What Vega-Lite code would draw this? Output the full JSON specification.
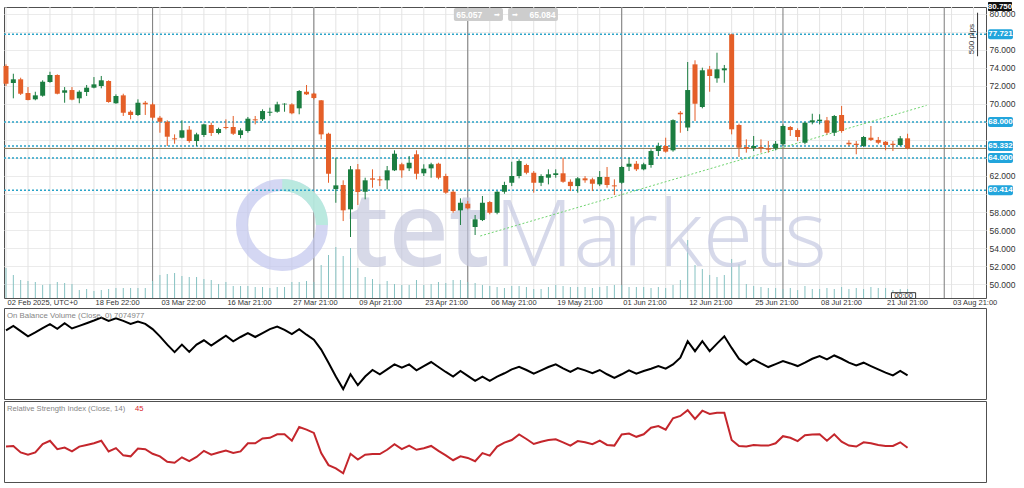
{
  "$schema": "https://vega.github.io/schema/vega-lite/v6.json",
  "background": "#ffffff",
  "padding": {"left": 1, "top": 1, "right": 0, "bottom": 5},
  "spacing": 0,
  "config": {
    "view": {"stroke": "#505050", "strokeWidth": 1},
    "font": "Liberation Sans",
    "axis": {"labelFont": "Liberation Sans", "labelColor": "#333333"}
  },
  "datasets": {
    "bars": [
      {"i":0,"o":74.21,"h":74.39,"l":71.99,"c":72.24,"v":30,"obv":7622000,"rsi":46.0},
      {"i":1,"o":72.32,"h":73.35,"l":70.62,"c":72.73,"v":23,"obv":7678000,"rsi":46.5},
      {"i":2,"o":72.73,"h":72.91,"l":70.99,"c":71.13,"v":18,"obv":7614000,"rsi":41.2},
      {"i":3,"o":71.21,"h":71.87,"l":70.40,"c":70.43,"v":17,"obv":7550000,"rsi":39.3},
      {"i":4,"o":70.51,"h":71.35,"l":70.40,"c":70.95,"v":16,"obv":7598000,"rsi":41.2},
      {"i":5,"o":70.91,"h":72.62,"l":70.80,"c":72.46,"v":13,"obv":7650000,"rsi":48.1},
      {"i":6,"o":72.43,"h":73.57,"l":72.35,"c":73.21,"v":14,"obv":7698000,"rsi":50.8},
      {"i":7,"o":73.21,"h":73.28,"l":71.06,"c":71.13,"v":16,"obv":7642000,"rsi":43.9},
      {"i":8,"o":71.24,"h":71.87,"l":70.13,"c":71.51,"v":15,"obv":7710000,"rsi":45.2},
      {"i":9,"o":71.54,"h":71.87,"l":70.40,"c":70.47,"v":14,"obv":7646000,"rsi":42.0},
      {"i":10,"o":70.62,"h":71.51,"l":70.07,"c":71.35,"v":8,"obv":7678000,"rsi":46.0},
      {"i":11,"o":71.32,"h":72.10,"l":70.88,"c":71.80,"v":9,"obv":7710000,"rsi":47.3},
      {"i":12,"o":71.80,"h":72.98,"l":71.73,"c":72.17,"v":7,"obv":7743000,"rsi":48.7},
      {"i":13,"o":71.99,"h":73.10,"l":71.73,"c":72.62,"v":8,"obv":7779000,"rsi":50.8},
      {"i":14,"o":72.54,"h":72.62,"l":70.13,"c":70.21,"v":9,"obv":7739000,"rsi":42.0},
      {"i":15,"o":70.07,"h":71.06,"l":70.02,"c":70.88,"v":10,"obv":7771000,"rsi":44.7},
      {"i":16,"o":70.95,"h":71.13,"l":68.66,"c":69.02,"v":10,"obv":7739000,"rsi":38.8},
      {"i":17,"o":69.13,"h":69.29,"l":68.29,"c":68.77,"v":10,"obv":7702000,"rsi":38.0},
      {"i":18,"o":68.77,"h":70.51,"l":68.66,"c":70.13,"v":10,"obv":7731000,"rsi":44.4},
      {"i":19,"o":70.13,"h":70.32,"l":68.77,"c":69.95,"v":10,"obv":7702000,"rsi":43.9},
      {"i":20,"o":69.95,"h":70.13,"l":68.29,"c":68.47,"v":17,"obv":7638000,"rsi":40.1},
      {"i":21,"o":68.47,"h":68.66,"l":66.80,"c":68.02,"v":23,"obv":7550000,"rsi":38.0},
      {"i":22,"o":68.02,"h":68.18,"l":65.33,"c":66.36,"v":24,"obv":7449000,"rsi":33.5},
      {"i":23,"o":66.18,"h":66.62,"l":65.58,"c":66.07,"v":25,"obv":7357000,"rsi":32.7},
      {"i":24,"o":66.25,"h":68.18,"l":66.18,"c":67.07,"v":22,"obv":7449000,"rsi":37.2},
      {"i":25,"o":67.14,"h":67.55,"l":65.69,"c":65.88,"v":21,"obv":7361000,"rsi":34.0},
      {"i":26,"o":65.88,"h":66.80,"l":65.33,"c":66.62,"v":21,"obv":7449000,"rsi":37.5},
      {"i":27,"o":66.55,"h":67.80,"l":66.33,"c":67.73,"v":19,"obv":7502000,"rsi":42.5},
      {"i":28,"o":67.66,"h":67.91,"l":66.44,"c":66.77,"v":18,"obv":7437000,"rsi":39.3},
      {"i":29,"o":66.77,"h":67.36,"l":66.62,"c":67.21,"v":14,"obv":7498000,"rsi":41.2},
      {"i":30,"o":67.44,"h":68.29,"l":67.18,"c":67.33,"v":16,"obv":7558000,"rsi":42.8},
      {"i":31,"o":67.44,"h":68.66,"l":66.55,"c":66.69,"v":12,"obv":7490000,"rsi":40.7},
      {"i":32,"o":66.55,"h":67.29,"l":66.18,"c":67.07,"v":12,"obv":7542000,"rsi":42.0},
      {"i":33,"o":66.99,"h":68.55,"l":66.80,"c":68.36,"v":12,"obv":7590000,"rsi":48.7},
      {"i":34,"o":68.29,"h":68.66,"l":67.73,"c":68.18,"v":11,"obv":7542000,"rsi":48.7},
      {"i":35,"o":68.29,"h":69.40,"l":68.10,"c":69.21,"v":11,"obv":7590000,"rsi":52.7},
      {"i":36,"o":69.02,"h":69.58,"l":68.66,"c":69.13,"v":10,"obv":7638000,"rsi":53.2},
      {"i":37,"o":69.13,"h":70.24,"l":69.02,"c":69.95,"v":11,"obv":7670000,"rsi":56.1},
      {"i":38,"o":69.95,"h":70.07,"l":69.13,"c":70.02,"v":11,"obv":7630000,"rsi":56.1},
      {"i":39,"o":69.95,"h":70.07,"l":68.85,"c":68.96,"v":16,"obv":7578000,"rsi":50.8},
      {"i":40,"o":69.51,"h":71.54,"l":68.85,"c":71.43,"v":16,"obv":7638000,"rsi":62.0},
      {"i":41,"o":71.35,"h":72.10,"l":70.99,"c":71.06,"v":17,"obv":7570000,"rsi":59.9},
      {"i":42,"o":71.15,"h":71.24,"l":70.51,"c":70.65,"v":16,"obv":7510000,"rsi":57.2},
      {"i":43,"o":70.40,"h":70.43,"l":66.07,"c":66.62,"v":33,"obv":7389000,"rsi":40.7},
      {"i":44,"o":66.69,"h":66.80,"l":61.25,"c":62.25,"v":43,"obv":7229000,"rsi":30.8},
      {"i":45,"o":60.55,"h":64.03,"l":59.03,"c":60.96,"v":51,"obv":7060000,"rsi":28.1},
      {"i":46,"o":61.00,"h":61.52,"l":57.00,"c":58.19,"v":42,"obv":6907000,"rsi":24.1},
      {"i":47,"o":58.30,"h":63.11,"l":55.23,"c":62.74,"v":50,"obv":7088000,"rsi":40.1},
      {"i":48,"o":62.74,"h":63.33,"l":58.78,"c":60.22,"v":30,"obv":6955000,"rsi":35.3},
      {"i":49,"o":60.25,"h":61.81,"l":59.41,"c":61.52,"v":21,"obv":7060000,"rsi":39.3},
      {"i":50,"o":61.74,"h":62.74,"l":60.70,"c":61.59,"v":19,"obv":7140000,"rsi":39.9},
      {"i":51,"o":61.63,"h":61.99,"l":60.88,"c":61.52,"v":14,"obv":7088000,"rsi":39.9},
      {"i":52,"o":61.52,"h":63.11,"l":60.52,"c":62.63,"v":17,"obv":7148000,"rsi":43.4},
      {"i":53,"o":62.63,"h":64.85,"l":62.55,"c":64.47,"v":14,"obv":7208000,"rsi":47.9},
      {"i":54,"o":63.30,"h":63.47,"l":61.81,"c":62.63,"v":13,"obv":7168000,"rsi":43.9},
      {"i":55,"o":62.85,"h":64.22,"l":62.55,"c":63.47,"v":13,"obv":7208000,"rsi":46.8},
      {"i":56,"o":64.41,"h":64.85,"l":61.63,"c":62.25,"v":18,"obv":7136000,"rsi":43.4},
      {"i":57,"o":62.30,"h":63.30,"l":62.00,"c":62.81,"v":13,"obv":7188000,"rsi":44.7},
      {"i":58,"o":62.85,"h":63.47,"l":61.81,"c":63.30,"v":14,"obv":7237000,"rsi":46.5},
      {"i":59,"o":63.36,"h":63.47,"l":61.63,"c":61.81,"v":16,"obv":7176000,"rsi":42.5},
      {"i":60,"o":62.00,"h":62.25,"l":60.03,"c":60.15,"v":15,"obv":7116000,"rsi":38.8},
      {"i":61,"o":60.25,"h":60.41,"l":57.92,"c":58.11,"v":18,"obv":7060000,"rsi":34.8},
      {"i":62,"o":58.19,"h":59.52,"l":56.56,"c":59.03,"v":18,"obv":7128000,"rsi":38.0},
      {"i":63,"o":58.92,"h":59.22,"l":58.30,"c":58.41,"v":16,"obv":7068000,"rsi":36.7},
      {"i":64,"o":56.34,"h":57.67,"l":55.45,"c":57.19,"v":15,"obv":7008000,"rsi":34.0},
      {"i":65,"o":57.11,"h":59.78,"l":57.00,"c":59.03,"v":13,"obv":7060000,"rsi":40.7},
      {"i":66,"o":59.11,"h":59.22,"l":57.75,"c":57.92,"v":12,"obv":7008000,"rsi":38.6},
      {"i":67,"o":57.92,"h":60.33,"l":57.75,"c":60.25,"v":11,"obv":7060000,"rsi":46.0},
      {"i":68,"o":60.25,"h":61.36,"l":60.03,"c":61.00,"v":10,"obv":7100000,"rsi":49.2},
      {"i":69,"o":61.25,"h":63.58,"l":60.88,"c":62.00,"v":12,"obv":7148000,"rsi":51.4},
      {"i":70,"o":62.00,"h":63.85,"l":61.74,"c":63.66,"v":12,"obv":7180000,"rsi":55.9},
      {"i":71,"o":63.22,"h":63.36,"l":62.19,"c":62.36,"v":11,"obv":7140000,"rsi":52.2},
      {"i":72,"o":62.36,"h":62.55,"l":60.15,"c":61.25,"v":9,"obv":7096000,"rsi":48.1},
      {"i":73,"o":61.25,"h":62.19,"l":60.88,"c":62.00,"v":9,"obv":7136000,"rsi":50.0},
      {"i":74,"o":61.81,"h":62.74,"l":61.07,"c":62.19,"v":11,"obv":7176000,"rsi":51.4},
      {"i":75,"o":62.11,"h":62.74,"l":61.81,"c":62.30,"v":13,"obv":7208000,"rsi":51.9},
      {"i":76,"o":62.30,"h":64.03,"l":61.25,"c":61.36,"v":12,"obv":7160000,"rsi":49.5},
      {"i":77,"o":61.36,"h":61.63,"l":60.33,"c":60.88,"v":11,"obv":7116000,"rsi":46.8},
      {"i":78,"o":60.88,"h":61.88,"l":60.15,"c":61.74,"v":11,"obv":7164000,"rsi":50.5},
      {"i":79,"o":61.74,"h":61.99,"l":61.25,"c":61.52,"v":11,"obv":7136000,"rsi":49.5},
      {"i":80,"o":61.63,"h":61.81,"l":60.33,"c":61.14,"v":10,"obv":7100000,"rsi":47.9},
      {"i":81,"o":61.07,"h":62.55,"l":60.88,"c":61.89,"v":11,"obv":7140000,"rsi":50.8},
      {"i":82,"o":61.89,"h":63.00,"l":60.70,"c":61.00,"v":12,"obv":7088000,"rsi":47.3},
      {"i":83,"o":60.96,"h":61.63,"l":59.89,"c":60.85,"v":13,"obv":7044000,"rsi":46.8},
      {"i":84,"o":61.25,"h":63.11,"l":61.14,"c":63.00,"v":13,"obv":7088000,"rsi":55.9},
      {"i":85,"o":63.03,"h":64.03,"l":62.55,"c":63.36,"v":11,"obv":7136000,"rsi":56.7},
      {"i":86,"o":63.36,"h":63.66,"l":62.55,"c":62.74,"v":11,"obv":7096000,"rsi":54.0},
      {"i":87,"o":62.74,"h":63.47,"l":62.63,"c":63.30,"v":11,"obv":7128000,"rsi":56.1},
      {"i":88,"o":63.22,"h":64.96,"l":62.92,"c":64.77,"v":10,"obv":7156000,"rsi":61.5},
      {"i":89,"o":64.77,"h":65.69,"l":64.22,"c":65.33,"v":11,"obv":7188000,"rsi":62.8},
      {"i":90,"o":65.33,"h":66.25,"l":64.59,"c":64.70,"v":10,"obv":7156000,"rsi":59.9},
      {"i":91,"o":64.85,"h":68.29,"l":64.70,"c":68.20,"v":13,"obv":7208000,"rsi":69.2},
      {"i":92,"o":69.02,"h":69.21,"l":66.80,"c":68.85,"v":18,"obv":7289000,"rsi":71.1},
      {"i":93,"o":67.38,"h":74.65,"l":66.99,"c":71.54,"v":58,"obv":7490000,"rsi":75.9},
      {"i":94,"o":74.39,"h":74.84,"l":68.10,"c":70.02,"v":33,"obv":7369000,"rsi":68.7},
      {"i":95,"o":69.66,"h":74.02,"l":69.51,"c":73.73,"v":29,"obv":7490000,"rsi":75.4},
      {"i":96,"o":73.84,"h":74.21,"l":71.35,"c":73.10,"v":23,"obv":7369000,"rsi":72.7},
      {"i":97,"o":72.84,"h":75.68,"l":72.35,"c":73.84,"v":21,"obv":7461000,"rsi":73.8},
      {"i":98,"o":73.73,"h":74.32,"l":72.35,"c":73.95,"v":23,"obv":7550000,"rsi":73.8},
      {"i":99,"o":77.72,"h":77.79,"l":66.62,"c":67.18,"v":39,"obv":7409000,"rsi":51.4},
      {"i":100,"o":67.66,"h":67.80,"l":64.11,"c":65.14,"v":34,"obv":7277000,"rsi":46.5},
      {"i":101,"o":65.22,"h":66.07,"l":64.59,"c":65.03,"v":14,"obv":7208000,"rsi":46.0},
      {"i":102,"o":65.11,"h":66.44,"l":64.77,"c":65.33,"v":12,"obv":7269000,"rsi":47.3},
      {"i":103,"o":65.22,"h":66.07,"l":64.59,"c":65.07,"v":11,"obv":7220000,"rsi":46.8},
      {"i":104,"o":65.07,"h":65.88,"l":64.59,"c":64.92,"v":10,"obv":7176000,"rsi":46.8},
      {"i":105,"o":65.07,"h":65.88,"l":64.85,"c":65.58,"v":10,"obv":7212000,"rsi":48.7},
      {"i":106,"o":65.52,"h":67.73,"l":65.33,"c":67.55,"v":9,"obv":7249000,"rsi":54.5},
      {"i":107,"o":67.44,"h":67.55,"l":66.44,"c":67.10,"v":10,"obv":7220000,"rsi":53.2},
      {"i":108,"o":67.10,"h":67.29,"l":65.88,"c":66.33,"v":8,"obv":7188000,"rsi":50.5},
      {"i":109,"o":65.69,"h":68.02,"l":65.52,"c":67.91,"v":12,"obv":7229000,"rsi":55.3},
      {"i":110,"o":67.96,"h":68.91,"l":67.73,"c":68.18,"v":9,"obv":7277000,"rsi":55.9},
      {"i":111,"o":68.10,"h":68.85,"l":67.73,"c":68.25,"v":9,"obv":7309000,"rsi":56.1},
      {"i":112,"o":68.18,"h":68.55,"l":66.62,"c":66.80,"v":10,"obv":7269000,"rsi":50.8},
      {"i":113,"o":66.80,"h":68.77,"l":66.44,"c":68.66,"v":9,"obv":7317000,"rsi":56.1},
      {"i":114,"o":68.77,"h":69.77,"l":66.80,"c":66.99,"v":11,"obv":7277000,"rsi":50.0},
      {"i":115,"o":65.69,"h":65.96,"l":65.33,"c":65.52,"v":9,"obv":7229000,"rsi":46.8},
      {"i":116,"o":65.58,"h":65.88,"l":64.41,"c":65.44,"v":10,"obv":7196000,"rsi":46.0},
      {"i":117,"o":65.33,"h":66.44,"l":65.22,"c":66.33,"v":9,"obv":7229000,"rsi":49.5},
      {"i":118,"o":66.25,"h":67.55,"l":65.88,"c":66.00,"v":11,"obv":7188000,"rsi":48.7},
      {"i":119,"o":66.00,"h":66.33,"l":65.52,"c":65.69,"v":10,"obv":7148000,"rsi":47.3},
      {"i":120,"o":65.80,"h":65.88,"l":64.85,"c":65.44,"v":10,"obv":7108000,"rsi":46.5},
      {"i":121,"o":65.58,"h":65.88,"l":64.77,"c":65.44,"v":8,"obv":7075000,"rsi":46.5},
      {"i":122,"o":65.44,"h":66.44,"l":65.33,"c":66.18,"v":9,"obv":7128000,"rsi":49.5},
      {"i":123,"o":66.18,"h":66.69,"l":64.96,"c":65.06,"v":9,"obv":7074977,"rsi":45.0}
    ],
    "xlabels": [
      {"i": 0, "t": "02 Feb 2025, UTC+0"},
      {"i": 12, "t": "18 Feb 22:00"},
      {"i": 21, "t": "03 Mar 22:00"},
      {"i": 30, "t": "16 Mar 21:00"},
      {"i": 39, "t": "27 Mar 21:00"},
      {"i": 48, "t": "09 Apr 21:00"},
      {"i": 57, "t": "23 Apr 21:00"},
      {"i": 66, "t": "06 May 21:00"},
      {"i": 75, "t": "19 May 21:00"},
      {"i": 84, "t": "01 Jun 21:00"},
      {"i": 93, "t": "12 Jun 21:00"},
      {"i": 102, "t": "25 Jun 21:00"},
      {"i": 111, "t": "08 Jul 21:00"},
      {"i": 120, "t": "21 Jul 21:00"},
      {"i": 129, "t": "03 Aug 21:00"}
    ],
    "levels": [
      {"v": 77.721, "t": "77.721"},
      {"v": 68.0, "t": "68.000"},
      {"v": 65.332, "t": "65.332"},
      {"v": 64.0, "t": "64.000"},
      {"v": 60.414, "t": "60.414"}
    ],
    "trend": [
      {"i": 64.7, "p": 55.34},
      {"i": 125.6, "p": 69.84}
    ]
  },
  "vconcat": [
    {
      "width": 982,
      "height": 291,
      "resolve": {"scale": {"y": "independent"}},
      "layer": [
        {
          "data": {"name": "bars"},
          "mark": {"type": "rule", "strokeWidth": 1},
          "encoding": {
            "x": {
              "field": "i", "type": "quantitative",
              "scale": {"domain": [-0.273, 133.7], "nice": false, "zero": false, "padding": 0},
              "axis": {
                "title": null,
                "values": [0,3,6,9,12,15,18,21,24,27,30,33,36,39,42,45,48,51,54,57,60,63,66,69,72,75,78,81,84,87,90,93,96,99,102,105,108,111,114,117,120,123,126,129,132],
                "grid": false,
                "labels": false, "ticks": true, "tickSize": 3, "tickColor": "#8a8a8a", "domain": false,
                "minExtent": 0, "maxExtent": 3
              }
            },
            "y": {
              "field": "l", "type": "quantitative",
              "scale": {"domain": [48.46, 80.755], "nice": false, "zero": false, "padding": 0},
              "axis": {
                "orient": "right",
                "title": null,
                "values": [50,52,54,56,58,60,62,64,66,68,70,72,74,76,78,80],
                "labelExpr": "indexof([78,68,66,64,60], datum.value) >= 0 ? '' : format(datum.value, '.3f')",
                "grid": true,
                "gridColor": "#ebebeb",
                "domain": false,
                "ticks": false,
                "labelPadding": 3,
                "labelFontSize": 8.5,
                "labelColor": "#333333",
                "minExtent": 34,
                "maxExtent": 34
              }
            },
            "y2": {"field": "l"},
            "opacity": {"value": 0}
          }
        },
        {
          "data": {"name": "bars"},
          "transform": [{"filter": "datum.i % 3 == 0"}],
          "mark": {"type": "rule", "color": "#e3e3e3", "strokeWidth": 1},
          "encoding": {
            "x": {"field": "i", "type": "quantitative", "scale": {"domain": [-0.273, 133.7], "nice": false, "zero": false, "padding": 0}, "axis": null}
          }
        },
        {
          "data": {"values": [{}]},
          "mark": {"type": "rule", "color": "#e3e3e3", "strokeWidth": 1},
          "encoding": {
            "x": {"datum": 126, "type": "quantitative", "scale": {"domain": [-0.273, 133.7], "nice": false, "zero": false, "padding": 0}, "axis": null}
          }
        },
        {
          "data": {"values": [{}]},
          "mark": {"type": "rule", "color": "#e3e3e3", "strokeWidth": 1},
          "encoding": {
            "x": {"datum": 129, "type": "quantitative", "scale": {"domain": [-0.273, 133.7], "nice": false, "zero": false, "padding": 0}, "axis": null}
          }
        },
        {
          "data": {"values": [{}]},
          "mark": {"type": "rule", "color": "#e3e3e3", "strokeWidth": 1},
          "encoding": {
            "x": {"datum": 132, "type": "quantitative", "scale": {"domain": [-0.273, 133.7], "nice": false, "zero": false, "padding": 0}, "axis": null}
          }
        },
        {
          "data": {"name": "bars"},
          "transform": [{"filter": "indexof([20,42,63,84,106], datum.i) >= 0"}],
          "mark": {"type": "rule", "color": "#7a7a7a", "strokeWidth": 1},
          "encoding": {
            "x": {"field": "i", "type": "quantitative", "scale": {"domain": [-0.273, 133.7], "nice": false, "zero": false, "padding": 0}, "axis": null}
          }
        },
        {
          "data": {"values": [{}]},
          "mark": {"type": "rule", "color": "#7a7a7a", "strokeWidth": 1},
          "encoding": {
            "x": {"datum": 128, "type": "quantitative", "scale": {"domain": [-0.273, 133.7], "nice": false, "zero": false, "padding": 0}, "axis": null}
          }
        },
        {
          "data": {"name": "xlabels"},
          "mark": {"type": "text", "align": "left", "baseline": "middle", "dx": 1.5, "dy": 5, "fontSize": 7.5, "color": "#333333"},
          "encoding": {
            "x": {"field": "i", "type": "quantitative", "scale": {"domain": [-0.273, 133.7], "nice": false, "zero": false, "padding": 0}, "axis": null},
            "y": {"datum": 48.46, "type": "quantitative", "scale": {"domain": [48.46, 80.755], "nice": false, "zero": false, "padding": 0}, "axis": null},
            "text": {"field": "t"}
          }
        },
        {
          "data": {"name": "bars"},
          "mark": {"type": "rule", "color": "#86c2c2", "strokeWidth": 1},
          "encoding": {
            "x": {"field": "i", "type": "quantitative", "scale": {"domain": [-0.273, 133.7], "nice": false, "zero": false, "padding": 0}, "axis": null},
            "y": {"field": "v", "type": "quantitative", "scale": {"domain": [0, 291], "nice": false, "padding": 0}, "axis": null},
            "y2": {"datum": 0}
          }
        },
        {
          "data": {"values": [{}]},
          "mark": {"type": "point", "shape": "circle", "filled": false, "size": 6400, "stroke": "#c3c7ee", "strokeWidth": 12, "opacity": 0.7},
          "encoding": {
            "x": {"datum": 37.65, "type": "quantitative", "scale": {"domain": [-0.273, 133.7], "nice": false, "zero": false, "padding": 0}, "axis": null},
            "y": {"datum": 56.56, "type": "quantitative", "scale": {"domain": [48.46, 80.755], "nice": false, "zero": false, "padding": 0}, "axis": null}
          }
        },
        {
          "data": {"values": [{}]},
          "mark": {"type": "point", "shape": "circle", "filled": false, "size": 6400, "stroke": "#b4eedb", "strokeWidth": 12, "opacity": 0.8, "strokeDash": [62.8, 188.5], "strokeDashOffset": 62.8},
          "encoding": {
            "x": {"datum": 37.65, "type": "quantitative", "scale": {"domain": [-0.273, 133.7], "nice": false, "zero": false, "padding": 0}, "axis": null},
            "y": {"datum": 56.56, "type": "quantitative", "scale": {"domain": [48.46, 80.755], "nice": false, "zero": false, "padding": 0}, "axis": null}
          }
        },
        {
          "data": {"values": [{}]},
          "mark": {"type": "text", "text": "tet", "font": "Open Sans", "fontSize": 104, "fontWeight": 600, "color": "#c2c5dd", "opacity": 0.65, "align": "right", "baseline": "alphabetic"},
          "encoding": {
            "x": {"datum": 66.0, "type": "quantitative", "scale": {"domain": [-0.273, 133.7], "nice": false, "zero": false, "padding": 0}, "axis": null},
            "y": {"datum": 52.05, "type": "quantitative", "scale": {"domain": [48.46, 80.755], "nice": false, "zero": false, "padding": 0}, "axis": null}
          }
        },
        {
          "data": {"values": [{}]},
          "mark": {"type": "text", "text": "Markets", "font": "Open Sans", "fontSize": 92, "fontWeight": 300, "color": "#c6c9e2", "opacity": 0.7, "align": "left", "baseline": "alphabetic"},
          "encoding": {
            "x": {"datum": 66.6, "type": "quantitative", "scale": {"domain": [-0.273, 133.7], "nice": false, "zero": false, "padding": 0}, "axis": null},
            "y": {"datum": 52.05, "type": "quantitative", "scale": {"domain": [48.46, 80.755], "nice": false, "zero": false, "padding": 0}, "axis": null}
          }
        },
        {
          "data": {"name": "levels"},
          "mark": {"type": "rule", "color": "#2aa3c8", "strokeWidth": 1.5, "strokeDash": [2, 2]},
          "encoding": {
            "y": {"field": "v", "type": "quantitative", "scale": {"domain": [48.46, 80.755], "nice": false, "zero": false, "padding": 0}, "axis": null}
          }
        },
        {
          "data": {"values": [{}]},
          "mark": {"type": "rule", "color": "#8c7b55", "strokeWidth": 1},
          "encoding": {
            "y": {"datum": 65.057, "type": "quantitative", "scale": {"domain": [48.46, 80.755], "nice": false, "zero": false, "padding": 0}, "axis": null}
          }
        },
        {
          "data": {"name": "trend"},
          "mark": {"type": "line", "color": "#6fd46f", "strokeWidth": 1, "strokeDash": [2, 2]},
          "encoding": {
            "x": {"field": "i", "type": "quantitative", "scale": {"domain": [-0.273, 133.7], "nice": false, "zero": false, "padding": 0}, "axis": null},
            "y": {"field": "p", "type": "quantitative", "scale": {"domain": [48.46, 80.755], "nice": false, "zero": false, "padding": 0}, "axis": null}
          }
        },
        {
          "data": {"name": "bars"},
          "mark": {"type": "rule", "strokeWidth": 1},
          "encoding": {
            "x": {"field": "i", "type": "quantitative", "scale": {"domain": [-0.273, 133.7], "nice": false, "zero": false, "padding": 0}, "axis": null},
            "y": {"field": "l", "type": "quantitative", "scale": {"domain": [48.46, 80.755], "nice": false, "zero": false, "padding": 0}, "axis": null},
            "y2": {"field": "h"},
            "color": {"condition": {"test": "datum.c >= datum.o", "value": "#1b7d40"}, "value": "#e45f28"}
          }
        },
        {
          "data": {"name": "bars"},
          "mark": {"type": "bar", "size": 5},
          "encoding": {
            "x": {"field": "i", "type": "quantitative", "scale": {"domain": [-0.273, 133.7], "nice": false, "zero": false, "padding": 0}, "axis": null},
            "y": {"field": "o", "type": "quantitative", "scale": {"domain": [48.46, 80.755], "nice": false, "zero": false, "padding": 0}, "axis": null},
            "y2": {"field": "c"},
            "color": {"condition": {"test": "datum.c >= datum.o", "value": "#1b7d40"}, "value": "#e45f28"}
          }
        },
        {
          "data": {"name": "levels"},
          "mark": {"type": "rect", "fill": "#22a5dc", "cornerRadius": 2, "xOffset": 2, "x2Offset": 27, "yOffset": -5, "y2Offset": 5},
          "encoding": {
            "x": {"datum": 133.7, "type": "quantitative", "scale": {"domain": [-0.273, 133.7], "nice": false, "zero": false, "padding": 0}, "axis": null},
            "x2": {"datum": 133.7},
            "y": {"field": "v", "type": "quantitative", "scale": {"domain": [48.46, 80.755], "nice": false, "zero": false, "padding": 0}, "axis": null},
            "y2": {"field": "v"}
          }
        },
        {
          "data": {"name": "levels"},
          "mark": {"type": "text", "color": "#ffffff", "fontSize": 8, "fontWeight": "bold", "align": "center", "baseline": "middle", "dx": 14.5},
          "encoding": {
            "x": {"datum": 133.7, "type": "quantitative", "scale": {"domain": [-0.273, 133.7], "nice": false, "zero": false, "padding": 0}, "axis": null},
            "y": {"field": "v", "type": "quantitative", "scale": {"domain": [48.46, 80.755], "nice": false, "zero": false, "padding": 0}, "axis": null},
            "text": {"field": "t"}
          }
        },
        {
          "data": {"values": [{}]},
          "mark": {"type": "rect", "fill": "#111111", "cornerRadius": 1, "xOffset": 2, "x2Offset": 26},
          "encoding": {
            "x": {"datum": 133.7, "type": "quantitative", "scale": {"domain": [-0.273, 133.7], "nice": false, "zero": false, "padding": 0}, "axis": null},
            "x2": {"datum": 133.7},
            "y": {"datum": 81.31, "type": "quantitative", "scale": {"domain": [48.46, 80.755], "nice": false, "zero": false, "padding": 0}, "axis": null},
            "y2": {"datum": 80.31}
          }
        },
        {
          "data": {"values": [{}]},
          "mark": {"type": "text", "text": "80.750", "color": "#ffffff", "fontSize": 8, "fontWeight": "bold", "align": "center", "baseline": "middle", "dx": 14},
          "encoding": {
            "x": {"datum": 133.7, "type": "quantitative", "scale": {"domain": [-0.273, 133.7], "nice": false, "zero": false, "padding": 0}, "axis": null},
            "y": {"datum": 80.81, "type": "quantitative", "scale": {"domain": [48.46, 80.755], "nice": false, "zero": false, "padding": 0}, "axis": null}
          }
        },
        {
          "data": {"values": [{}]},
          "mark": {"type": "rect", "fill": "#cdcdcd", "cornerRadius": 2},
          "encoding": {
            "x": {"datum": 61.1, "type": "quantitative", "scale": {"domain": [-0.273, 133.7], "nice": false, "zero": false, "padding": 0}, "axis": null},
            "x2": {"datum": 67.8},
            "y": {"datum": 80.64, "type": "quantitative", "scale": {"domain": [48.46, 80.755], "nice": false, "zero": false, "padding": 0}, "axis": null},
            "y2": {"datum": 79.2}
          }
        },
        {
          "data": {"values": [{}]},
          "mark": {"type": "rect", "fill": "#cdcdcd", "cornerRadius": 2},
          "encoding": {
            "x": {"datum": 68.5, "type": "quantitative", "scale": {"domain": [-0.273, 133.7], "nice": false, "zero": false, "padding": 0}, "axis": null},
            "x2": {"datum": 75.3},
            "y": {"datum": 80.64, "type": "quantitative", "scale": {"domain": [48.46, 80.755], "nice": false, "zero": false, "padding": 0}, "axis": null},
            "y2": {"datum": 79.2}
          }
        },
        {
          "data": {"values": [{}]},
          "mark": {"type": "text", "text": "65.057", "color": "#ffffff", "fontSize": 8.5, "fontWeight": "bold", "align": "center", "baseline": "middle"},
          "encoding": {
            "x": {"datum": 63.2, "type": "quantitative", "scale": {"domain": [-0.273, 133.7], "nice": false, "zero": false, "padding": 0}, "axis": null},
            "y": {"datum": 79.92, "type": "quantitative", "scale": {"domain": [48.46, 80.755], "nice": false, "zero": false, "padding": 0}, "axis": null}
          }
        },
        {
          "data": {"values": [{}]},
          "mark": {"type": "text", "text": "➡", "color": "#ffffff", "fontSize": 7, "align": "center", "baseline": "middle"},
          "encoding": {
            "x": {"datum": 67.0, "type": "quantitative", "scale": {"domain": [-0.273, 133.7], "nice": false, "zero": false, "padding": 0}, "axis": null},
            "y": {"datum": 79.92, "type": "quantitative", "scale": {"domain": [48.46, 80.755], "nice": false, "zero": false, "padding": 0}, "axis": null}
          }
        },
        {
          "data": {"values": [{}]},
          "mark": {"type": "text", "text": "➡", "color": "#ffffff", "fontSize": 7, "align": "center", "baseline": "middle"},
          "encoding": {
            "x": {"datum": 69.4, "type": "quantitative", "scale": {"domain": [-0.273, 133.7], "nice": false, "zero": false, "padding": 0}, "axis": null},
            "y": {"datum": 79.92, "type": "quantitative", "scale": {"domain": [48.46, 80.755], "nice": false, "zero": false, "padding": 0}, "axis": null}
          }
        },
        {
          "data": {"values": [{}]},
          "mark": {"type": "text", "text": "65.084", "color": "#ffffff", "fontSize": 8.5, "fontWeight": "bold", "align": "center", "baseline": "middle"},
          "encoding": {
            "x": {"datum": 73.2, "type": "quantitative", "scale": {"domain": [-0.273, 133.7], "nice": false, "zero": false, "padding": 0}, "axis": null},
            "y": {"datum": 79.92, "type": "quantitative", "scale": {"domain": [48.46, 80.755], "nice": false, "zero": false, "padding": 0}, "axis": null}
          }
        },
        {
          "data": {"values": [{}]},
          "mark": {"type": "rule", "color": "#333333", "strokeWidth": 1},
          "encoding": {
            "x": {"datum": 132.55, "type": "quantitative", "scale": {"domain": [-0.273, 133.7], "nice": false, "zero": false, "padding": 0}, "axis": null},
            "y": {"datum": 80.12, "type": "quantitative", "scale": {"domain": [48.46, 80.755], "nice": false, "zero": false, "padding": 0}, "axis": null},
            "y2": {"datum": 75.29}
          }
        },
        {
          "data": {"values": [{}]},
          "mark": {"type": "text", "text": "500 pips", "color": "#333333", "fontSize": 8, "angle": 270, "align": "center", "baseline": "middle"},
          "encoding": {
            "x": {"datum": 131.8, "type": "quantitative", "scale": {"domain": [-0.273, 133.7], "nice": false, "zero": false, "padding": 0}, "axis": null},
            "y": {"datum": 77.2, "type": "quantitative", "scale": {"domain": [48.46, 80.755], "nice": false, "zero": false, "padding": 0}, "axis": null}
          }
        },
        {
          "data": {"values": [{}]},
          "mark": {"type": "rect", "fill": "#ffffff", "stroke": "#333333", "strokeWidth": 1},
          "encoding": {
            "x": {"datum": 120.8, "type": "quantitative", "scale": {"domain": [-0.273, 133.7], "nice": false, "zero": false, "padding": 0}, "axis": null},
            "x2": {"datum": 124.1},
            "y": {"datum": 49.05, "type": "quantitative", "scale": {"domain": [48.46, 80.755], "nice": false, "zero": false, "padding": 0}, "axis": null},
            "y2": {"datum": 48.4}
          }
        },
        {
          "data": {"values": [{}]},
          "mark": {"type": "text", "text": "00:00", "color": "#333333", "fontSize": 7.5, "align": "center", "baseline": "middle"},
          "encoding": {
            "x": {"datum": 122.45, "type": "quantitative", "scale": {"domain": [-0.273, 133.7], "nice": false, "zero": false, "padding": 0}, "axis": null},
            "y": {"datum": 48.72, "type": "quantitative", "scale": {"domain": [48.46, 80.755], "nice": false, "zero": false, "padding": 0}, "axis": null}
          }
        }
      ]
    },
    {
      "width": 982,
      "height": 91,
      "layer": [
        {
          "data": {"name": "bars"},
          "mark": {"type": "line", "color": "#000000", "strokeWidth": 2},
          "encoding": {
            "x": {
              "field": "i", "type": "quantitative",
              "scale": {"domain": [-0.273, 133.7], "nice": false, "zero": false, "padding": 0},
              "axis": {
                "title": null,
                "values": [0,3,6,9,12,15,18,20,21,24,27,30,33,36,39,42,45,48,51,54,57,60,63,66,69,72,75,78,81,84,87,90,93,96,99,102,105,106,108,111,114,117,120,123,126,128,129,132],
                "grid": true,
                "gridColor": {"condition": {"test": "indexof([20,42,63,84,106,128], datum.value) >= 0", "value": "#7a7a7a"}, "value": "#e3e3e3"},
                "labels": false, "ticks": false, "domain": false,
                "minExtent": 0, "maxExtent": 0
              }
            },
            "y": {
              "field": "obv", "type": "quantitative",
              "scale": {"domain": [6786750, 7895166], "nice": false, "zero": false},
              "axis": {
                "orient": "right", "title": null,
                "values": [7000000, 7200000, 7400000, 7600000, 7800000],
                "format": "d",
                "grid": true, "gridColor": "#ebebeb",
                "domain": false, "ticks": false,
                "labelPadding": 3, "labelFontSize": 8, "labelColor": "#333333",
                "minExtent": 34, "maxExtent": 34
              }
            }
          }
        },
        {
          "data": {"values": [{}]},
          "mark": {"type": "text", "text": "On Balance Volume (Close, 0) 7074977", "color": "#858585", "fontSize": 7.8, "align": "left", "baseline": "middle"},
          "encoding": {
            "x": {"datum": 0.14, "type": "quantitative", "scale": {"domain": [-0.273, 133.7], "nice": false, "zero": false, "padding": 0}, "axis": null},
            "y": {"datum": 7798800, "type": "quantitative", "scale": {"domain": [6786750, 7895166], "nice": false, "zero": false}, "axis": null}
          }
        }
      ]
    },
    {
      "width": 982,
      "height": 81,
      "layer": [
        {
          "data": {"name": "bars"},
          "mark": {"type": "line", "color": "#c4262c", "strokeWidth": 2},
          "encoding": {
            "x": {
              "field": "i", "type": "quantitative",
              "scale": {"domain": [-0.273, 133.7], "nice": false, "zero": false, "padding": 0},
              "axis": {
                "title": null,
                "values": [0,3,6,9,12,15,18,20,21,24,27,30,33,36,39,42,45,48,51,54,57,60,63,66,69,72,75,78,81,84,87,90,93,96,99,102,105,106,108,111,114,117,120,123,126,128,129,132],
                "grid": true,
                "gridColor": {"condition": {"test": "indexof([20,42,63,84,106,128], datum.value) >= 0", "value": "#7a7a7a"}, "value": "#e3e3e3"},
                "labels": false, "ticks": false, "domain": false,
                "minExtent": 0, "maxExtent": 0
              }
            },
            "y": {
              "field": "rsi", "type": "quantitative",
              "scale": {"domain": [16.96, 83.36], "nice": false, "zero": false},
              "axis": {
                "orient": "right", "title": null,
                "values": [30, 70],
                "grid": true, "gridColor": "#8ccaca",
                "domain": false, "ticks": false,
                "labelPadding": 3, "labelFontSize": 8, "labelColor": "#333333",
                "minExtent": 34, "maxExtent": 34
              }
            }
          }
        },
        {
          "data": {"values": [{}]},
          "mark": {"type": "text", "text": "Relative Strength Index (Close, 14)", "color": "#858585", "fontSize": 7.6, "align": "left", "baseline": "middle"},
          "encoding": {
            "x": {"datum": 0.14, "type": "quantitative", "scale": {"domain": [-0.273, 133.7], "nice": false, "zero": false, "padding": 0}, "axis": null},
            "y": {"datum": 76.7, "type": "quantitative", "scale": {"domain": [16.96, 83.36], "nice": false, "zero": false}, "axis": null}
          }
        },
        {
          "data": {"values": [{}]},
          "mark": {"type": "text", "text": "45", "color": "#d9262b", "fontSize": 7.6, "align": "left", "baseline": "middle"},
          "encoding": {
            "x": {"datum": 17.6, "type": "quantitative", "scale": {"domain": [-0.273, 133.7], "nice": false, "zero": false, "padding": 0}, "axis": null},
            "y": {"datum": 76.7, "type": "quantitative", "scale": {"domain": [16.96, 83.36], "nice": false, "zero": false}, "axis": null}
          }
        }
      ]
    }
  ],
  "resolve": {"scale": {"x": "independent", "y": "independent"}}
}
